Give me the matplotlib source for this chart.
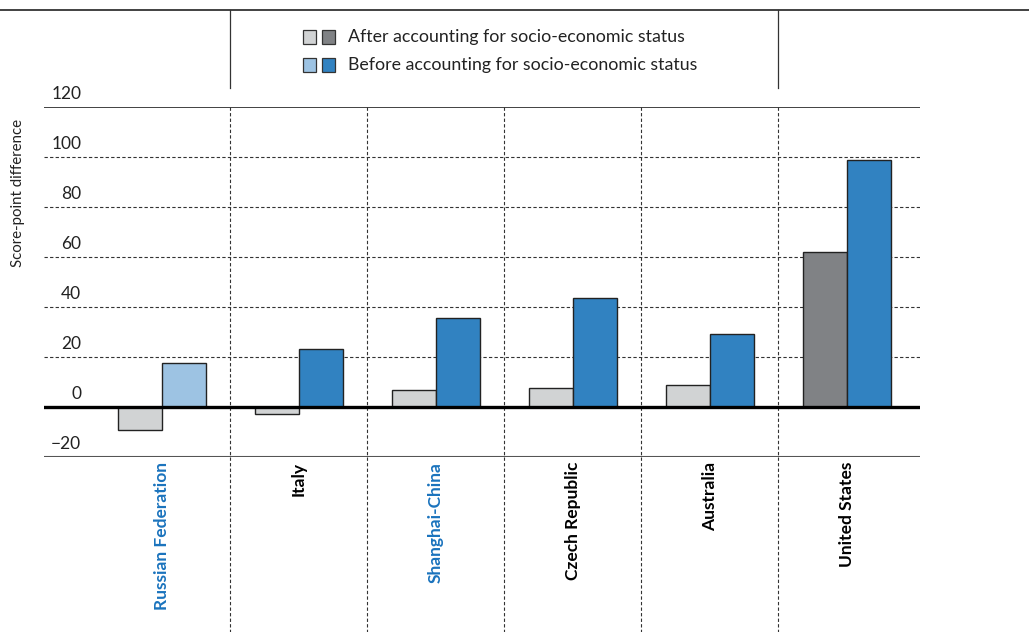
import matplotlib
matplotlib.use("Agg")
import matplotlib.pyplot as plt
from matplotlib.patches import Rectangle
import matplotlib.transforms as mtransforms

categories = ["Russian Federation", "Italy", "Shanghai-China", "Czech Republic", "Australia", "United States"]
after_ses = [-9.2, -2.9, 6.8, 7.6, 8.8, 61.9]
before_ses = [17.5, 23.1, 35.6, 43.6, 29.2, 98.7]
after_colors = ["#d1d3d4", "#d1d3d4", "#d1d3d4", "#d1d3d4", "#d1d3d4", "#808285"]
before_colors = ["#9dc3e3", "#3182c1", "#3182c1", "#3182c1", "#3182c1", "#3182c1"]
label_colors = ["#1a73bd", "black", "#1a73bd", "black", "black", "black"]
yticks = [-20, 0, 20, 40, 60, 80, 100, 120]
ytick_labels = ["\u221220", "0", "20", "40", "60", "80", "100", "120"]
legend_labels = ["After accounting for socio-economic status",
                 "Before accounting for socio-economic status"]

plt.rcParams['font.family'] = ['Lato', 'DejaVu Sans']

W, H = 1029, 632
fig = plt.figure(figsize=(W / 100, H / 100), dpi=100)
ax = fig.add_axes([44 / W, 1 - 457 / H, (920 - 44) / W, (457 - 107) / H])
ax.set_xlim(-0.861, 5.533)
ax.set_ylim(-20, 120)
for s in ax.spines.values():
    s.set_visible(False)
ax.set_xticks([])
ax.set_yticks([])

bw = 0.32
x = list(range(len(categories)))
ax.bar([i - bw / 2 for i in x], after_ses, width=bw, color=after_colors,
       edgecolor="#222222", linewidth=1.0, zorder=3)
ax.bar([i + bw / 2 for i in x], before_ses, width=bw, color=before_colors,
       edgecolor="#222222", linewidth=1.0, zorder=3)

# gridlines
for v in [20, 40, 60, 80, 100]:
    ax.axhline(v, color="#333333", lw=0.8, ls=(0, (3, 2)), zorder=1)
ax.axhline(120, color="#333333", lw=1.3, zorder=2)
ax.axhline(-20, color="#555555", lw=1.5, zorder=2)
ax.axhline(0, color="black", lw=2.4, zorder=4)

# tick labels
for v, t in zip(yticks, ytick_labels):
    ax.text(-0.59, v + 2.0, t, ha="right", va="bottom", fontsize=12.5, color="#222222")

ax.text(18 / W, 1 - 193 / H, "Score-point difference", transform=fig.transFigure,
        rotation=90, ha="center", va="center", fontsize=10.8, color="#222222")

# vertical category separators
trans = mtransforms.blended_transform_factory(ax.transData, fig.transFigure)
for b in [0.5, 1.5, 2.5, 3.5, 4.5]:
    ax.plot([b, b], [1 - 107 / H, 0], transform=trans, color="#333333", lw=0.8,
            ls=(0, (3, 2)), clip_on=False, zorder=1)
for b in [0.5, 4.5]:
    ax.plot([b, b], [1 - 10 / H, 1 - 88 / H], transform=trans, color="#333333",
            lw=0.9, clip_on=False)

# top line
fig.add_artist(plt.Line2D([0, 1], [1 - 10 / H, 1 - 10 / H], transform=fig.transFigure,
                          color="#333333", lw=1.3))

# category labels
for i, (c, col) in enumerate(zip(categories, label_colors)):
    ax.text(i, 1 - 462 / H, c, transform=trans, rotation=90, ha="center",
            va="top", fontsize=12.5, fontweight="bold", color=col)

# legend
leg_rows = [(37, after_colors[0], after_colors[5]), (65, before_colors[0], before_colors[1])]
for (yc, c1, c2), lab in zip(leg_rows, legend_labels):
    for x0, c in [(303, c1), (322, c2)]:
        fig.add_artist(Rectangle((x0 / W, 1 - (yc + 7) / H), 13 / W, 14 / H,
                                 transform=fig.transFigure, facecolor=c,
                                 edgecolor="#333333", lw=0.9))
    fig.text(348 / W, 1 - yc / H, lab, ha="left", va="center", fontsize=12.8,
             color="#222222")

fig.savefig("out.png", dpi=100)
